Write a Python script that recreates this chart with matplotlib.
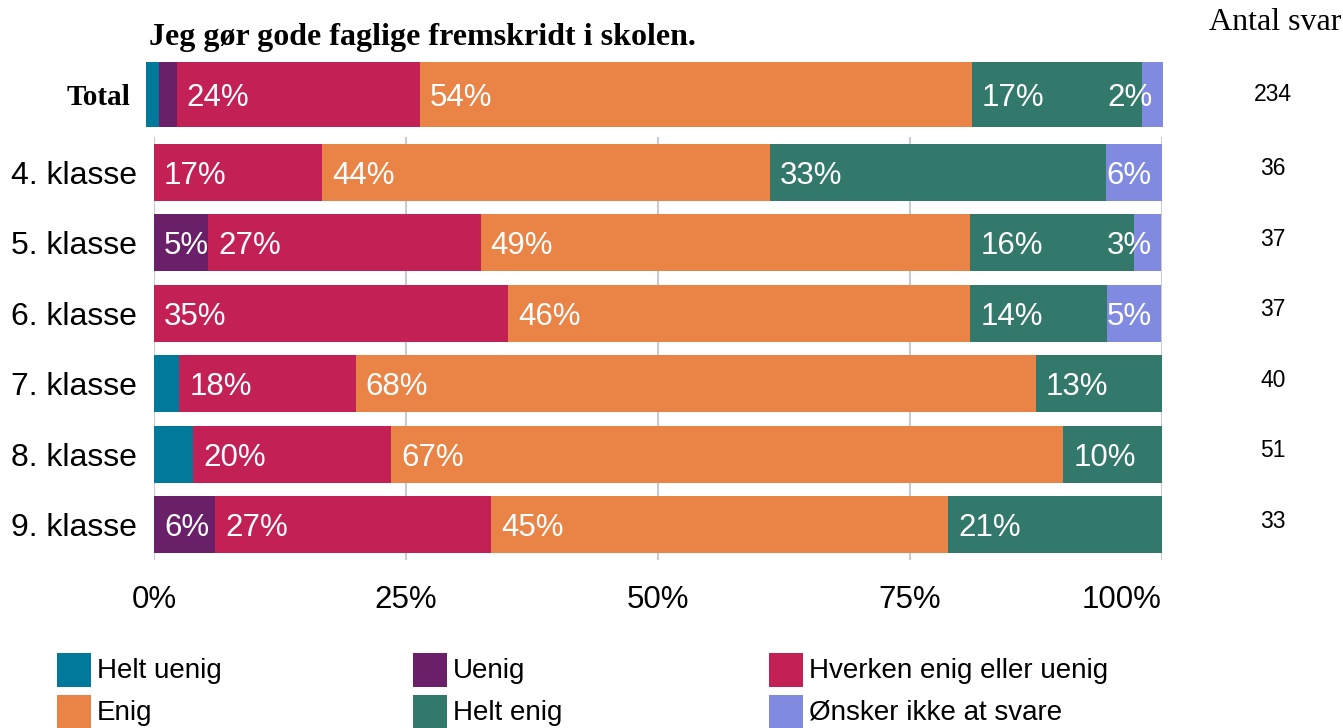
import numpy as np
import matplotlib.pyplot as plt
from matplotlib.patches import Rectangle
from matplotlib.transforms import blended_transform_factory

plt.rcParams['font.family'] = ['Liberation Sans', 'DejaVu Sans']

W, H = 1343, 728

categories = ["Helt uenig", "Uenig", "Hverken enig eller uenig",
              "Enig", "Helt enig", "Ønsker ikke at svare"]
colors = ["#00799a", "#6a2068", "#c32056", "#ea8446", "#32786b", "#7f8ae0"]

classes = ["4. klasse", "5. klasse", "6. klasse", "7. klasse", "8. klasse", "9. klasse"]

# percent per answer, total row
total_pct = [1.3, 1.7, 23.9, 54.3, 16.7, 2.1]
total_n = 234

# percent per answer, one entry per class
helt_uenig = [0.0, 0.0, 0.0, 2.5, 3.9, 0.0]
uenig = [0.0, 5.4, 0.0, 0.0, 0.0, 6.1]
hverken = [16.7, 27.0, 35.1, 17.5, 19.6, 27.3]
enig = [44.4, 48.6, 45.9, 67.5, 66.7, 45.4]
helt_enig = [33.3, 16.2, 13.5, 12.5, 9.8, 21.2]
onsker = [5.6, 2.7, 5.4, 0.0, 0.0, 0.0]
n_svar = [36, 37, 37, 40, 51, 33]

class_pct = np.array([helt_uenig, uenig, hverken, enig, helt_enig, onsker]).T

fig = plt.figure(figsize=(W / 100, H / 100), dpi=100)
renderer = fig.canvas.get_renderer()


def draw_row(ax, y, values, height):
    values = np.asarray(values, dtype=float)
    lefts = np.concatenate([[0], np.cumsum(values)[:-1]])
    last = max(i for i, v in enumerate(values) if v > 0)
    for i, (v, left) in enumerate(zip(values, lefts)):
        if v <= 0:
            continue
        ax.barh(y, v, left=left, height=height, color=colors[i], linewidth=0)
        if v < 4.5 and i != last:
            continue
        t = ax.text(left + 1.0, y, f"{int(v + 0.5)}%", color="white",
                    fontsize=22.5, ha="left", va="center_baseline")
        # keep the label inside the bar end
        bb = t.get_window_extent(renderer)
        right_edge = ax.transData.transform((100, y))[0]
        if bb.x1 > right_edge - 2:
            t.set_x(99.0)
            t.set_ha("right")


# main chart, one bar per class
ax = fig.add_axes([154 / W, 1 - 560 / H, 1008 / W, 423 / H])
ax.set_xlim(0, 100)
ax.set_ylim(5.5, -0.5)
ypos = np.arange(len(classes))
for y, vals in zip(ypos, class_pct):
    draw_row(ax, y, vals, 0.81)

ax.set_yticks(ypos)
ax.set_yticklabels(classes, fontsize=23)
ax.set_xticks([0, 25, 50, 75, 100])
xlabels = ax.set_xticklabels(["0%", "25%", "50%", "75%", "100%"], fontsize=22.5)
xlabels[-1].set_ha("right")
ax.tick_params(axis="both", length=0)
ax.tick_params(axis="y", pad=12)
ax.tick_params(axis="x", pad=18)
ax.grid(axis="x", color="#c8ccd0", linewidth=1.5)
ax.set_axisbelow(True)
for s in ax.spines.values():
    s.set_visible(False)

# total bar on its own axes
ax0 = fig.add_axes([146 / W, 1 - 127 / H, 1017 / W, 65 / H])
ax0.set_xlim(0, 100)
ax0.set_ylim(-0.5, 0.5)
draw_row(ax0, 0, total_pct, 1.0)
ax0.set_xticks([])
ax0.set_yticks([0])
ax0.set_yticklabels(["Total"], fontsize=21, fontweight="bold",
                    family=["Liberation Serif", "DejaVu Serif"])
ax0.tick_params(axis="y", length=0, pad=11)
for s in ax0.spines.values():
    s.set_visible(False)

# respondents per row
tr = blended_transform_factory(fig.transFigure, ax.transData)
for y, n in zip(ypos, n_svar):
    ax.text(1273 / W, y - 0.05, str(n), transform=tr, fontsize=16.5,
            ha="center", va="center")
tr0 = blended_transform_factory(fig.transFigure, ax0.transData)
ax0.text(1273 / W, 0, str(total_n), transform=tr0, fontsize=16.5,
         ha="center", va="center")

fig.text(149 / W, 1 - 38 / H, "Jeg gør gode faglige fremskridt i skolen.",
         fontsize=23, fontweight="bold", family=["Liberation Serif", "DejaVu Serif"],
         ha="left", va="center")
fig.text(1341 / W, 1 - 22 / H, "Antal svar", fontsize=23,
         family=["Liberation Serif", "DejaVu Serif"], ha="right", va="center")

# legend, filled row by row
for i, (cat, col) in enumerate(zip(categories, colors)):
    c, r = i % 3, i // 3
    x0 = (57 + 356 * c) / W
    y0 = 1 - (653 + 42 * r + 34) / H
    fig.add_artist(Rectangle((x0, y0), 34 / W, 34 / H, transform=fig.transFigure,
                             color=col, linewidth=0))
    fig.text(x0 + 40 / W, y0 + 16 / H, cat, fontsize=20, ha="left", va="center")

fig.savefig("out.png", dpi=100)
